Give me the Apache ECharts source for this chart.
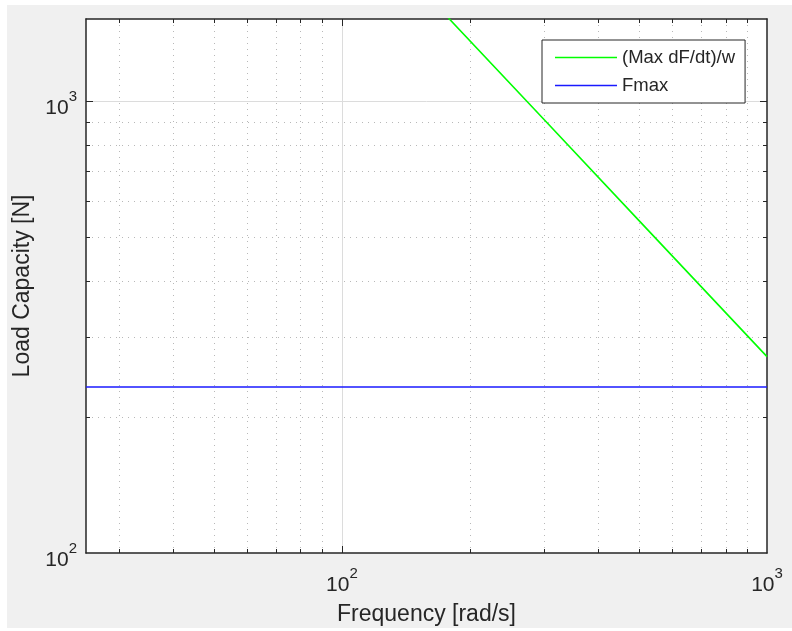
<!DOCTYPE html>
<html>
<head>
<meta charset="utf-8">
<script src="https://cdn.jsdelivr.net/npm/echarts@6/dist/echarts.min.js"></script>
<style>
    html, body { margin: 0; padding: 0; background: #fff; }
    #wrap { position: relative; width: 792px; height: 631px; }
    #figure { position: absolute; left: 7px; top: 5px; width: 785px; height: 623px; background: #f0f0f0; }
    #main { position: absolute; left: 0; top: 0; width: 792px; height: 631px; }
</style>
</head>
<body>
<div id="wrap">
    <div id="figure"></div>
    <div id="main"></div>
</div>
<script>
// axis limits
const xLimits = [25, 1000];
const yLimits = [100, 1520];

// tick positions (log axes, decade labels + 2..9 minor ticks)
const xMajor = [100, 1000];
const xMinor = [30, 40, 50, 60, 70, 80, 90, 200, 300, 400, 500, 600, 700, 800, 900];
const yMajor = [100, 1000];
const yMinor = [200, 300, 400, 500, 600, 700, 800, 900];

// (Max dF/dt)/w
const ratioFreq = [178, 300, 500, 1000];
const ratioLoad = [1528, 907, 544, 272];
// Fmax
const fmaxFreq = [25, 1000];
const fmaxLoad = [233, 233];

const boxColor = '#262626';
const textColor = '#262626';
const font = 'Liberation Sans, Arial, Helvetica, sans-serif';

function zip(a, b) {
    return a.map((v, i) => [v, b[i]]);
}

// 10^n labels: base sits low in a tall line, exponent pinned to the top
const powerRich = {
    b: { fontSize: 21, fontFamily: font, color: textColor, lineHeight: 30, verticalAlign: 'bottom' },
    e: { fontSize: 15, fontFamily: font, color: textColor, lineHeight: 15, verticalAlign: 'top' }
};
function powerLabel(v) {
    return '{b|10}{e|' + Math.round(Math.log10(v)) + '}';
}

// one helper for every stacked axis of the box
function logAxis(dim, opts) {
    const lim = dim === 'x' ? xLimits : yLimits;
    return Object.assign({
        type: 'log',
        logBase: 10,
        min: lim[0],
        max: lim[1],
        axisLine: { show: false },
        axisTick: { show: false },
        axisLabel: { show: false },
        splitLine: { show: false },
        minorTick: { show: false },
        minorSplitLine: { show: false }
    }, opts);
}

const myChart = echarts.init(document.getElementById('main'));

const option = {
    backgroundColor: 'transparent',
    animation: false,
    grid: {
        left: 86,
        right: 25,
        top: 19,
        bottom: 77,
        show: true,
        backgroundColor: '#fff',
        borderWidth: 0
    },
    legend: {
        orient: 'vertical',
        left: 542,
        top: 40,
        padding: [8, 10, 8, 13],
        icon: 'rect',
        itemWidth: 62,
        itemHeight: 1.5,
        itemGap: 9,
        backgroundColor: '#fff',
        borderColor: boxColor,
        borderWidth: 1,
        borderRadius: 0,
        textStyle: { fontSize: 18.5, fontFamily: font, color: textColor },
        data: ['(Max dF/dt)/w', 'Fmax']
    },
    xAxis: [
        logAxis('x', {
            position: 'bottom',
            axisLine: { show: true, lineStyle: { color: boxColor, width: 1.5 } },
            axisTick: { show: true, inside: true, length: 4, customValues: xMinor, lineStyle: { color: boxColor } },
            axisLabel: { show: true, margin: 13, customValues: xMajor, formatter: powerLabel, rich: powerRich },
            splitLine: { show: true, lineStyle: { color: '#b8b8b8', width: 1, type: [1, 5] } },
            name: 'Frequency [rad/s]',
            nameLocation: 'middle',
            nameGap: 50,
            nameTextStyle: { fontSize: 23, fontFamily: font, color: textColor }
        }),
        logAxis('x', {
            position: 'bottom',
            axisTick: { show: true, inside: true, length: 7, customValues: [100], lineStyle: { color: boxColor } },
            splitLine: { show: true, lineStyle: { color: '#dcdcdc', width: 1 } }
        }),
        logAxis('x', {
            position: 'top',
            axisLine: { show: true, lineStyle: { color: boxColor, width: 1.5 } },
            axisTick: { show: true, inside: true, length: 4, customValues: xMinor, lineStyle: { color: boxColor } }
        }),
        logAxis('x', {
            position: 'top',
            axisTick: { show: true, inside: true, length: 7, customValues: [100], lineStyle: { color: boxColor } }
        })
    ],
    yAxis: [
        logAxis('y', {
            position: 'left',
            axisLine: { show: true, lineStyle: { color: boxColor, width: 1.5 } },
            axisTick: { show: true, inside: true, length: 4, customValues: yMinor, lineStyle: { color: boxColor } },
            axisLabel: { show: true, margin: 9, padding: [6, 0, 0, 0], customValues: yMajor, formatter: powerLabel, rich: powerRich },
            splitLine: { show: true, lineStyle: { color: '#b8b8b8', width: 1, type: [1, 5] } },
            name: 'Load Capacity [N]',
            nameLocation: 'middle',
            nameGap: 51,
            nameTextStyle: { fontSize: 23, fontFamily: font, color: textColor }
        }),
        logAxis('y', {
            position: 'left',
            axisTick: { show: true, inside: true, length: 7, customValues: [1000], lineStyle: { color: boxColor } },
            splitLine: { show: true, lineStyle: { color: '#dcdcdc', width: 1 } }
        }),
        logAxis('y', {
            position: 'right',
            axisLine: { show: true, lineStyle: { color: boxColor, width: 1.5 } },
            axisTick: { show: true, inside: true, length: 4, customValues: yMinor, lineStyle: { color: boxColor } }
        }),
        logAxis('y', {
            position: 'right',
            axisTick: { show: true, inside: true, length: 7, customValues: [1000], lineStyle: { color: boxColor } }
        })
    ],
    series: [
        {
            name: '(Max dF/dt)/w',
            type: 'line',
            xAxisIndex: 0,
            yAxisIndex: 0,
            symbol: 'none',
            clip: true,
            lineStyle: { color: '#00ff00', width: 1.6 },
            itemStyle: { color: '#00ff00' },
            data: zip(ratioFreq, ratioLoad)
        },
        {
            name: 'Fmax',
            type: 'line',
            xAxisIndex: 0,
            yAxisIndex: 0,
            symbol: 'none',
            clip: true,
            lineStyle: { color: '#1a1aff', width: 1.5 },
            itemStyle: { color: '#1a1aff' },
            data: zip(fmaxFreq, fmaxLoad)
        }
    ]
};

myChart.setOption(option);
</script>
</body>
</html>
